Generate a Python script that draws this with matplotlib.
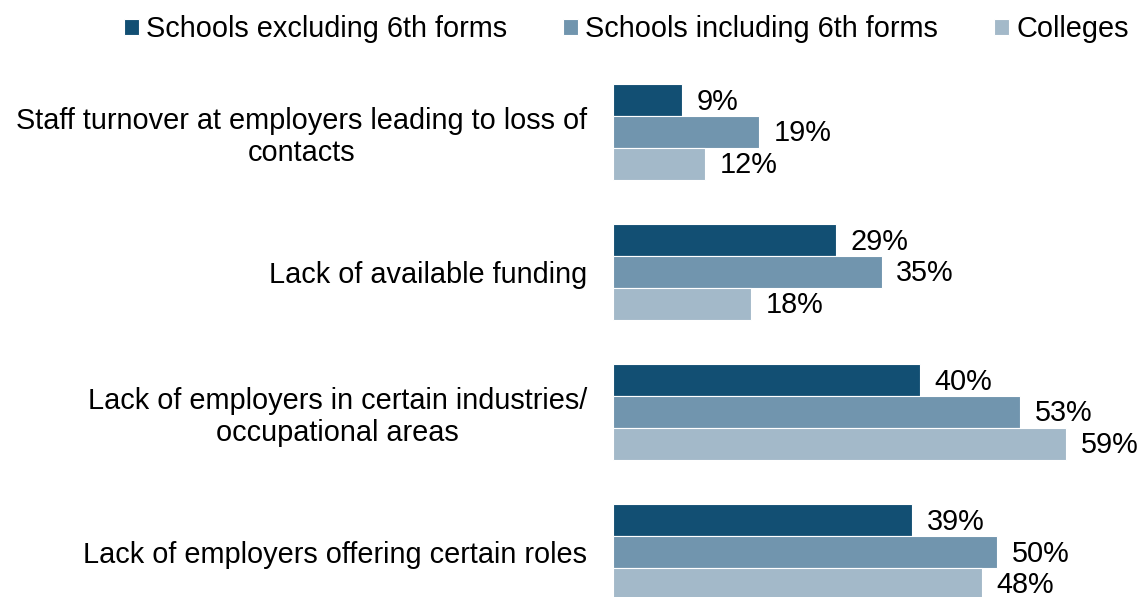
import matplotlib
matplotlib.use("Agg")
import matplotlib.pyplot as plt
import numpy as np

# barriers to employer engagement, by type of institution
categories = ["Staff turnover at employers leading to loss of\ncontacts",
              "Lack of available funding",
              "Lack of employers in certain industries/\noccupational areas",
              "Lack of employers offering certain roles"]
series_names = ["Schools excluding 6th forms", "Schools including 6th forms", "Colleges"]
schools_excl = [9, 29, 40, 39]
schools_incl = [19, 35, 53, 50]
colleges = [12, 18, 59, 48]
colors = ["#124f73", "#7195ae", "#a3b9c9"]

plt.rcParams['font.family'] = ['Liberation Sans', 'DejaVu Sans']
fs = 20.8

fig = plt.figure(figsize=(11.41, 5.97), dpi=100)
ax = fig.add_axes([0.537, 0.0, 0.463, 0.883])

y = np.arange(len(categories))
h = 0.227
offsets = [-h, 0, h]
for vals, off, col, name in zip([schools_excl, schools_incl, colleges], offsets, colors, series_names):
    bars = ax.barh(y + off, vals, height=h, color=col, edgecolor="white", linewidth=0.8, label=name)
    for b, v in zip(bars, vals):
        ax.text(b.get_width() + 1.9, b.get_y() + b.get_height() / 2 + 0.01, str(v) + "%",
                va="center", ha="left", fontsize=fs, color="black")

ax.set_xlim(0, 68.75)
ax.set_ylim(3.32, -0.443)
ax.set_yticks(y)
ax.set_yticklabels(categories, fontsize=fs, ha="right", multialignment="center", linespacing=1.17)
ax.tick_params(axis="y", length=0, pad=18.5)
ax.set_xticks([])
for s in ax.spines.values():
    s.set_visible(False)

fig.legend(loc="center", bbox_to_anchor=(0.549, 0.951), ncol=3, frameon=False, fontsize=fs,
           handlelength=0.52, handleheight=0.52, handletextpad=0.24, columnspacing=1.95,
           borderaxespad=0, borderpad=0)

fig.savefig("out.png", dpi=100)
